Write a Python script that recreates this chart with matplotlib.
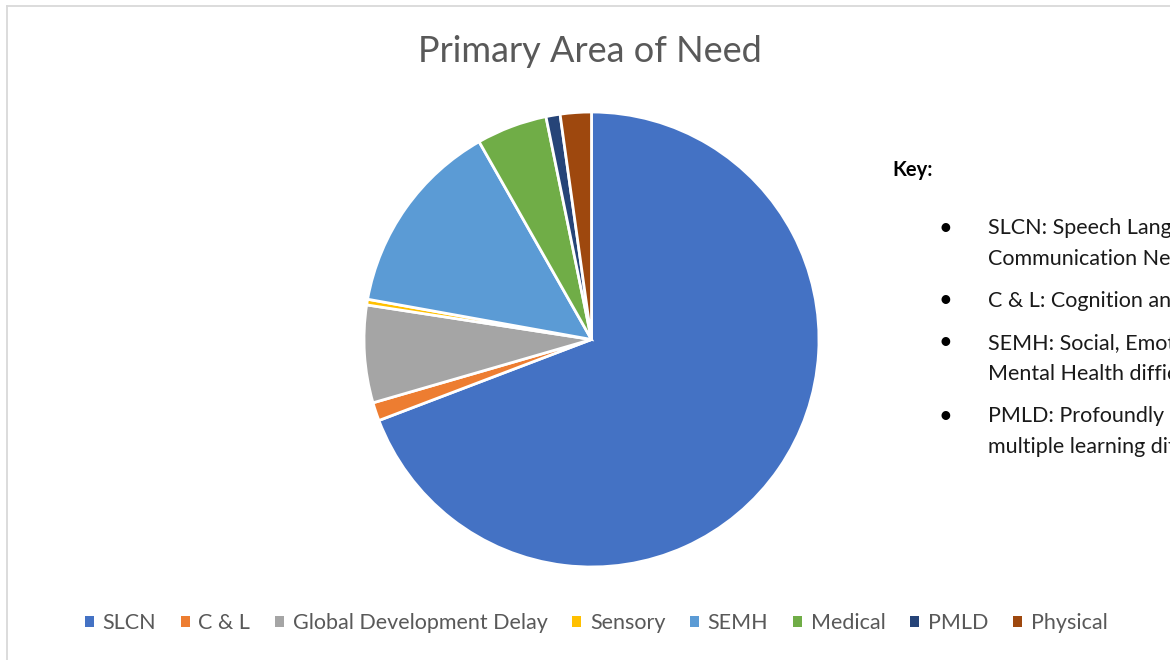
import matplotlib.pyplot as plt
from matplotlib.lines import Line2D
from matplotlib.patches import Patch

categories = ["SLCN", "C & L", "Global Development Delay", "Sensory",
              "SEMH", "Medical", "PMLD", "Physical"]
shares = [69.0, 1.3, 6.9, 0.4, 13.9, 5.0, 1.0, 2.2]
colors = ["#4472C4", "#ED7D31", "#A5A5A5", "#FFC000",
          "#5B9BD5", "#70AD47", "#264478", "#9E480E"]

key_items = [
    ["SLCN: Speech Language and", "Communication Needs"],
    ["C & L: Cognition and Learning"],
    ["SEMH: Social, Emotional and", "Mental Health difficulties"],
    ["PMLD: Profoundly and", "multiple learning difficulties"],
]

W, H = 1170, 660
TXT = "#595959"
plt.rcParams["font.family"] = ["Lato", "DejaVu Sans"]

fig = plt.figure(figsize=(W / 100, H / 100), dpi=100)

# thin grey frame (only left and top edges fall inside the picture)
fig.add_artist(Line2D([6.5 / W, 6.5 / W], [0, 1 - 5.5 / H], transform=fig.transFigure,
                      color="#D9D9D9", lw=1.3))
fig.add_artist(Line2D([6.5 / W, 1], [1 - 5.5 / H, 1 - 5.5 / H], transform=fig.transFigure,
                      color="#D9D9D9", lw=1.3))

cx, cy, r = 591.5, 339.5, 227.5
ax = fig.add_axes([(cx - r) / W, 1 - (cy + r) / H, 2 * r / W, 2 * r / H])
ax.pie(shares, colors=colors, startangle=90, counterclock=False,
       wedgeprops=dict(edgecolor="white", linewidth=2))
ax.set_xlim(-1, 1)
ax.set_ylim(-1, 1)
ax.set_aspect("equal")

fig.text(590 / W, 1 - 51 / H, "Primary Area of Need", ha="center", va="center",
         fontsize=26, color=TXT)

# key text (runs past the right edge, as in the source image)
fig.text(892 / W, 1 - 170 / H, "Key:", fontsize=14.5, fontweight="bold",
         color="black", va="center")
y = 228
for item in key_items:
    fig.text(945 / W, 1 - y / H, "\u2022", fontsize=17, color="black",
             va="center", ha="center")
    for line in item:
        fig.text(988 / W, 1 - y / H, line, fontsize=15.5, color="#1a1a1a", va="center")
        y += 31
    y += 11

handles = [Patch(facecolor=c, edgecolor="none") for c in colors]
fig.legend(handles, categories, loc="center", bbox_to_anchor=(596 / W, 1 - 623 / H),
           ncol=8, frameon=False, fontsize=15.5, labelcolor=TXT,
           handlelength=0.42, handleheight=0.42, handletextpad=0.4,
           columnspacing=1.15)

fig.savefig("out.png", dpi=100)
